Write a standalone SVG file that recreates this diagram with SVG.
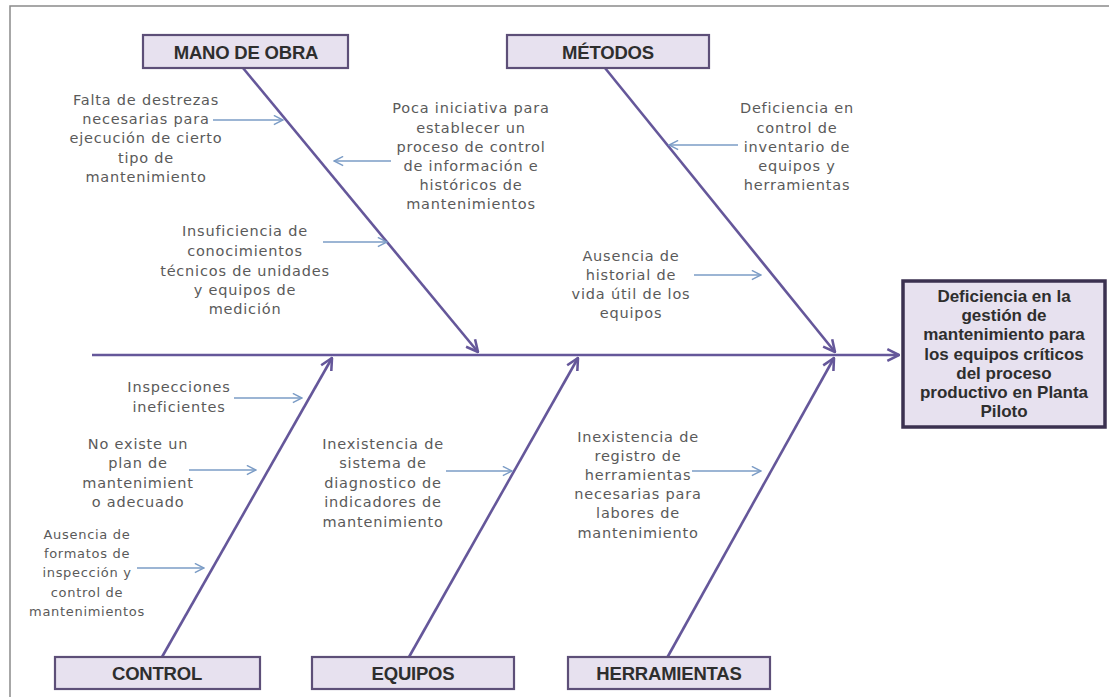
<svg xmlns="http://www.w3.org/2000/svg" width="1109" height="697" viewBox="0 0 1109 697">
<defs>
<style>
.frame{fill:#ffffff;stroke:#8a8a8a;stroke-width:1.5}
.cat{fill:#e7e1ef;stroke:#5d4f78;stroke-width:2.2}
.eff{fill:#e7e1ef;stroke:#3b3150;stroke-width:3.5}
.catt{font-family:"Liberation Sans",Arial,sans-serif;font-weight:bold;font-size:18.5px;letter-spacing:-0.2px;fill:#2e2e2e;text-anchor:middle}
.efft{font-family:"Liberation Sans",Arial,sans-serif;font-weight:bold;font-size:17px;fill:#2e2e2e;text-anchor:middle}
.cause{font-family:"DejaVu Sans",sans-serif;font-size:14.5px;letter-spacing:0.8px;fill:#5a5a5a;text-anchor:middle}
.small{font-size:13px;letter-spacing:0.7px}
.bone{stroke:#65579a;stroke-width:2.6;fill:none;marker-end:url(#bh)}
.sub{stroke:#7b9cc6;stroke-width:1.6;fill:none;marker-end:url(#sh)}
</style>
<marker id="bh" viewBox="0 0 12 12" refX="11" refY="6" markerWidth="14" markerHeight="14" markerUnits="userSpaceOnUse" orient="auto">
<path d="M1,1 L11,6 L1,11" fill="none" stroke="#65579a" stroke-width="2.2"/>
</marker>
<marker id="sh" viewBox="0 0 12 12" refX="11" refY="6" markerWidth="11" markerHeight="11" markerUnits="userSpaceOnUse" orient="auto">
<path d="M1,1 L11,6 L1,11" fill="none" stroke="#7b9cc6" stroke-width="1.6"/>
</marker>
</defs>
<rect class="frame" x="10" y="6" width="1110" height="700"/>
<g id="connectors">
<line class="bone" x1="92" y1="355" x2="899" y2="355"/>
<line class="bone" x1="243" y1="68" x2="478" y2="352"/>
<line class="bone" x1="605" y1="68" x2="835" y2="352"/>
<line class="bone" x1="162" y1="657" x2="332" y2="358"/>
<line class="bone" x1="409" y1="657" x2="578" y2="358"/>
<line class="bone" x1="667" y1="658" x2="834" y2="358"/>
<line class="sub" x1="213" y1="120" x2="283" y2="120"/>
<line class="sub" x1="391" y1="161" x2="334" y2="161"/>
<line class="sub" x1="323" y1="242" x2="387" y2="242"/>
<line class="sub" x1="738" y1="145" x2="669" y2="145"/>
<line class="sub" x1="694" y1="275" x2="761" y2="275"/>
<line class="sub" x1="234" y1="398" x2="302" y2="398"/>
<line class="sub" x1="189" y1="470" x2="256" y2="470"/>
<line class="sub" x1="137" y1="568" x2="204" y2="568"/>
<line class="sub" x1="446" y1="471" x2="512" y2="471"/>
<line class="sub" x1="692" y1="471" x2="761" y2="471"/>
</g>
<g id="mano-de-obra"><rect class="cat" x="143" y="35" width="205" height="33"/><text class="catt" x="246" y="58.5">MANO DE OBRA</text></g>
<g id="metodos"><rect class="cat" x="507" y="35" width="202" height="33"/><text class="catt" x="608" y="58.5">MÉTODOS</text></g>
<g id="control"><rect class="cat" x="55" y="657" width="205" height="32"/><text class="catt" x="157" y="680">CONTROL</text></g>
<g id="equipos"><rect class="cat" x="312" y="657" width="202" height="32"/><text class="catt" x="413" y="680">EQUIPOS</text></g>
<g id="herramientas"><rect class="cat" x="568" y="657" width="202" height="32"/><text class="catt" x="669" y="680">HERRAMIENTAS</text></g>
<g id="efecto"><rect class="eff" x="903" y="281" width="202" height="146"/>
<text class="efft" x="1004" y="302">Deficiencia en la</text>
<text class="efft" x="1004" y="321.2">gestión de</text>
<text class="efft" x="1004" y="340.4">mantenimiento para</text>
<text class="efft" x="1004" y="359.6">los equipos críticos</text>
<text class="efft" x="1004" y="378.8">del proceso</text>
<text class="efft" x="1004" y="398">productivo en Planta</text>
<text class="efft" x="1004" y="417.2">Piloto</text>
</g>
<g id="causa-falta-destrezas" class="cause">
<text x="146" y="105">Falta de destrezas</text>
<text x="146" y="124">necesarias para</text>
<text x="146" y="143">ejecución de cierto</text>
<text x="146" y="163">tipo de</text>
<text x="146" y="182">mantenimiento</text>
</g>
<g id="causa-poca-iniciativa" class="cause">
<text x="471" y="113">Poca iniciativa para</text>
<text x="471" y="133">establecer un</text>
<text x="471" y="152">proceso de control</text>
<text x="471" y="171">de información e</text>
<text x="471" y="190">históricos de</text>
<text x="471" y="209">mantenimientos</text>
</g>
<g id="causa-insuficiencia" class="cause">
<text x="245" y="236">Insuficiencia de</text>
<text x="245" y="256">conocimientos</text>
<text x="245" y="276">técnicos de unidades</text>
<text x="245" y="295">y equipos de</text>
<text x="245" y="314">medición</text>
</g>
<g id="causa-deficiencia-inventario" class="cause">
<text x="797" y="113">Deficiencia en</text>
<text x="797" y="133">control de</text>
<text x="797" y="152">inventario de</text>
<text x="797" y="171">equipos y</text>
<text x="797" y="190">herramientas</text>
</g>
<g id="causa-ausencia-historial" class="cause">
<text x="631" y="261">Ausencia de</text>
<text x="631" y="280">historial de</text>
<text x="631" y="299">vida útil de los</text>
<text x="631" y="318">equipos</text>
</g>
<g id="causa-inspecciones" class="cause">
<text x="179" y="392">Inspecciones</text>
<text x="179" y="412">ineficientes</text>
</g>
<g id="causa-no-existe-plan" class="cause">
<text x="138" y="449">No existe un</text>
<text x="138" y="468">plan de</text>
<text x="138" y="488">mantenimient</text>
<text x="138" y="507">o adecuado</text>
</g>
<g id="causa-ausencia-formatos" class="cause small">
<text x="87" y="539">Ausencia de</text>
<text x="87" y="558">formatos de</text>
<text x="87" y="577">inspección y</text>
<text x="87" y="597">control de</text>
<text x="87" y="616">mantenimientos</text>
</g>
<g id="causa-inexistencia-sistema" class="cause">
<text x="383" y="449">Inexistencia de</text>
<text x="383" y="468">sistema de</text>
<text x="383" y="488">diagnostico de</text>
<text x="383" y="507">indicadores de</text>
<text x="383" y="527">mantenimiento</text>
</g>
<g id="causa-inexistencia-registro" class="cause">
<text x="638" y="442">Inexistencia de</text>
<text x="638" y="461">registro de</text>
<text x="638" y="480">herramientas</text>
<text x="638" y="499">necesarias para</text>
<text x="638" y="518">labores de</text>
<text x="638" y="538">mantenimiento</text>
</g>
</svg>
